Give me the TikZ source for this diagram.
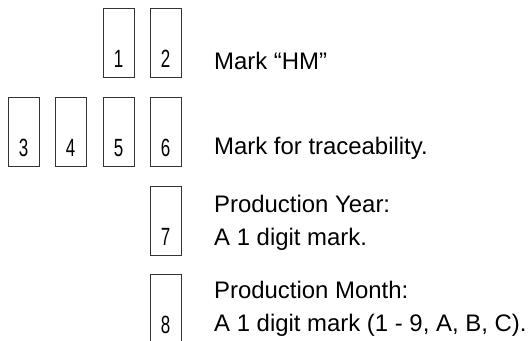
\documentclass[tikz,border=0pt]{standalone}
\usepackage{fontspec}
\setmainfont{Liberation Sans}
\newfontfamily\digitfont[FakeStretch=0.68]{Liberation Sans}
\begin{document}
\begin{tikzpicture}[x=1bp,y=-1bp]
            \tikzstyle{every node}+=[inner sep=0pt]
            \tikzstyle{cell}=[draw=black!80, line width=0.8bp, minimum width=31bp, minimum height=69bp]
            \tikzstyle{num}=[font=\digitfont\fontsize{25}{25}\selectfont, anchor=base]
            \tikzstyle{note}=[font=\fontsize{24}{33}\selectfont, anchor=base west, align=left]
                \useasboundingbox (0,0) rectangle (531,340);
                \clip (0,0) rectangle (531,340);
                % top row
                \node [cell] (c1) at (118.5,42.5) {};
                \node [num] (n1) at ([yshift=10bp]c1.south) {1};
                \node [cell] (c2) at (165.5,42.5) {};
                \node [num] (n2) at ([yshift=10bp]c2.south) {2};
                % second row
                \node [cell] (c3) at (23.5,131.5) {};
                \node [num] (n3) at ([yshift=10bp]c3.south) {3};
                \node [cell] (c4) at (70.5,131.5) {};
                \node [num] (n4) at ([yshift=10bp]c4.south) {4};
                \node [cell] (c5) at (118.5,131.5) {};
                \node [num] (n5) at ([yshift=10bp]c5.south) {5};
                \node [cell] (c6) at (165.5,131.5) {};
                \node [num] (n6) at ([yshift=10bp]c6.south) {6};
                % single cells
                \node [cell] (c7) at (165.5,220.5) {};
                \node [num] (n7) at ([yshift=10bp]c7.south) {7};
                \node [cell] (c8) at (165.5,308.5) {};
                \node [num] (n8) at ([yshift=10bp]c8.south) {8};
                % notes (base = last line)
                \node [note] (hm) at (214,69) {Mark “HM”};
                \node [note] (trace) at (214,154) {Mark for traceability.};
                \node [note] (year) at (214,245) {Production Year:\\A 1 digit mark.};
                \node [note] (month) at (214,331) {Production Month:\\A 1 digit mark (1 - 9, A, B, C).};
\end{tikzpicture}
\end{document}
